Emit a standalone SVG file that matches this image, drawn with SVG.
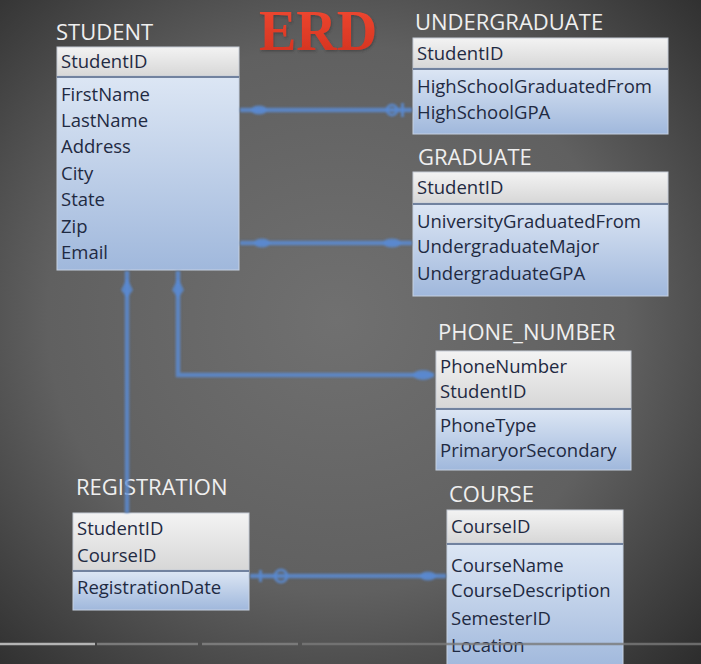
<svg xmlns="http://www.w3.org/2000/svg" width="701" height="664" viewBox="0 0 701 664">
  <defs>
    <radialGradient id="bg" cx="48%" cy="48%" r="75%">
      <stop offset="0" stop-color="#707070"/>
      <stop offset="0.55" stop-color="#606060"/>
      <stop offset="1" stop-color="#2a2a2a"/>
    </radialGradient>
    <linearGradient id="hdr" x1="0" y1="0" x2="0" y2="1">
      <stop offset="0" stop-color="#f3f3f3"/>
      <stop offset="1" stop-color="#d7d7d7"/>
    </linearGradient>
    <linearGradient id="body" x1="0" y1="0" x2="0" y2="1">
      <stop offset="0" stop-color="#dce6f4"/>
      <stop offset="1" stop-color="#a0b8dc"/>
    </linearGradient>
    <linearGradient id="red" x1="0" y1="0" x2="0" y2="1">
      <stop offset="0" stop-color="#f24a32"/>
      <stop offset="1" stop-color="#d0301e"/>
    </linearGradient>
    <filter id="soft" x="-10%" y="-10%" width="120%" height="120%">
      <feGaussianBlur stdDeviation="1.2"/>
    </filter>
    <filter id="shadow" x="-10%" y="-10%" width="130%" height="130%">
      <feDropShadow dx="1" dy="1.5" stdDeviation="1" flood-color="#303030" flood-opacity="0.5"/>
    </filter>
  </defs>
  <style>
    .title { font-family: "Open Sans", "Liberation Sans", sans-serif; font-size: 22px; fill: #efefef; }
    .attr { font-family: "Open Sans", "Liberation Sans", sans-serif; font-size: 18.5px; fill: #1f2a42; }
    .hdr { fill: url(#hdr); stroke: #c6ccd6; stroke-width: 1; }
    .body { fill: url(#body); stroke: #c6d1e2; stroke-width: 1; }
    .div { stroke: #71829f; stroke-width: 2; }
    .link { stroke: #5b8bd2; stroke-width: 4.5; fill: none; opacity: 0.85; }
    .mark { fill: #5b8bd2; opacity: 0.85; }
    .ring { fill: none; stroke: #5b8bd2; stroke-width: 3; opacity: 0.85; }
  </style>

  <rect width="701" height="664" fill="url(#bg)"/>

  <!-- heading -->
  <text x="259" y="50" font-family="Liberation Serif, serif" font-weight="bold" font-size="56" fill="url(#red)" filter="url(#shadow)">ERD</text>

  <!-- STUDENT -->
  <g id="student">
    <text class="title" x="56" y="40">STUDENT</text>
    <rect class="body" x="57" y="77" width="182" height="193"/>
    <rect class="hdr" x="57" y="47" width="182" height="29"/>
    <line class="div" x1="57" y1="77" x2="239" y2="77"/>
    <text class="attr" x="61" y="68">StudentID</text>
    <text class="attr" x="61" y="101">FirstName</text>
    <text class="attr" x="61" y="127">LastName</text>
    <text class="attr" x="61" y="153">Address</text>
    <text class="attr" x="61" y="180">City</text>
    <text class="attr" x="61" y="206">State</text>
    <text class="attr" x="61" y="233">Zip</text>
    <text class="attr" x="61" y="259">Email</text>
  </g>

  <!-- UNDERGRADUATE -->
  <g id="undergraduate">
    <text class="title" x="415" y="30">UNDERGRADUATE</text>
    <rect class="body" x="413" y="69" width="255" height="65"/>
    <rect class="hdr" x="413" y="38" width="255" height="30"/>
    <line class="div" x1="413" y1="69" x2="668" y2="69"/>
    <text class="attr" x="417" y="60">StudentID</text>
    <text class="attr" x="417" y="93">HighSchoolGraduatedFrom</text>
    <text class="attr" x="417" y="119">HighSchoolGPA</text>
  </g>

  <!-- GRADUATE -->
  <g id="graduate">
    <text class="title" x="418" y="165">GRADUATE</text>
    <rect class="body" x="413" y="204" width="255" height="92"/>
    <rect class="hdr" x="413" y="172" width="255" height="31"/>
    <line class="div" x1="413" y1="204" x2="668" y2="204"/>
    <text class="attr" x="417" y="194">StudentID</text>
    <text class="attr" x="417" y="228">UniversityGraduatedFrom</text>
    <text class="attr" x="417" y="253">UndergraduateMajor</text>
    <text class="attr" x="417" y="280">UndergraduateGPA</text>
  </g>

  <!-- PHONE_NUMBER -->
  <g id="phone_number">
    <text class="title" x="438" y="340">PHONE_NUMBER</text>
    <rect class="body" x="436" y="409" width="195" height="61"/>
    <rect class="hdr" x="436" y="351" width="195" height="57"/>
    <line class="div" x1="436" y1="409" x2="631" y2="409"/>
    <text class="attr" x="440" y="373">PhoneNumber</text>
    <text class="attr" x="440" y="398">StudentID</text>
    <text class="attr" x="440" y="432">PhoneType</text>
    <text class="attr" x="440" y="457">PrimaryorSecondary</text>
  </g>

  <!-- REGISTRATION -->
  <g id="registration">
    <text class="title" x="76" y="495">REGISTRATION</text>
    <rect class="body" x="73" y="571" width="176" height="39"/>
    <rect class="hdr" x="73" y="513" width="176" height="57"/>
    <line class="div" x1="73" y1="571" x2="249" y2="571"/>
    <text class="attr" x="77" y="535">StudentID</text>
    <text class="attr" x="77" y="562">CourseID</text>
    <text class="attr" x="77" y="594">RegistrationDate</text>
  </g>

  <!-- COURSE -->
  <g id="course">
    <text class="title" x="449" y="502">COURSE</text>
    <rect class="body" x="447" y="544" width="176" height="125"/>
    <rect class="hdr" x="447" y="510" width="176" height="33"/>
    <line class="div" x1="447" y1="544" x2="623" y2="544"/>
    <text class="attr" x="451" y="533">CourseID</text>
    <text class="attr" x="451" y="572">CourseName</text>
    <text class="attr" x="451" y="597">CourseDescription</text>
    <text class="attr" x="451" y="625">SemesterID</text>
    <text class="attr" x="451" y="652">Location</text>
  </g>

  <!-- relationship lines -->
  <g id="connectors" filter="url(#soft)">
    <!-- STUDENT - UNDERGRADUATE -->
    <line class="link" x1="240" y1="110" x2="412" y2="110" stroke-width="4"/>
    <ellipse class="mark" cx="259" cy="110" rx="8" ry="4.5"/>
    <circle class="ring" cx="392" cy="110" r="5"/>
    <rect class="mark" x="401" y="103" width="3" height="14"/>
    <!-- STUDENT - GRADUATE -->
    <line class="link" x1="240" y1="243" x2="412" y2="243" stroke-width="4"/>
    <ellipse class="mark" cx="262" cy="243" rx="8" ry="4.5"/>
    <ellipse class="mark" cx="392" cy="243" rx="9" ry="4.5"/>
    <!-- STUDENT - PHONE_NUMBER -->
    <path class="link" d="M178 271 V375 H434"/>
    <path class="mark" d="M178 278 L184 290 L178 298 L172 290 Z"/>
    <ellipse class="mark" cx="423" cy="375" rx="10" ry="5"/>
    <!-- STUDENT - REGISTRATION -->
    <line class="link" x1="127" y1="271" x2="127" y2="513"/>
    <path class="mark" d="M127 278 L133 290 L127 298 L121 290 Z"/>
    <!-- REGISTRATION - COURSE -->
    <line class="link" x1="250" y1="576" x2="446" y2="576" stroke-width="3.5"/>
    <rect class="mark" x="259" y="570" width="3" height="12"/>
    <circle class="ring" cx="281" cy="576" r="6"/>
    <ellipse class="mark" cx="428" cy="576" rx="8" ry="4.5"/>
  </g>

  <!-- player progress bar -->
  <g id="progress" stroke-width="2.5">
    <line x1="0" y1="644" x2="95" y2="644" stroke="#b4b4b4"/>
    <line x1="97" y1="644" x2="198" y2="644" stroke="#7a7a7a"/>
    <line x1="202" y1="644" x2="298" y2="644" stroke="#7a7a7a"/>
    <line x1="302" y1="644" x2="701" y2="644" stroke="#7a7a7a" opacity="0.8"/>
  </g>
</svg>
